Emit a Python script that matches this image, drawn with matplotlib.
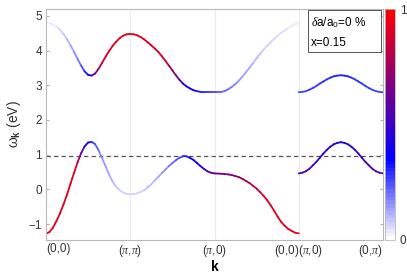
import numpy as np
import matplotlib
matplotlib.use("Agg")
import matplotlib.pyplot as plt
from matplotlib.collections import LineCollection
from matplotlib.colors import LinearSegmentedColormap, Normalize
from matplotlib.patches import Rectangle

plt.rcParams["font.family"] = ["Liberation Sans", "DejaVu Sans"]
plt.rcParams["mathtext.fontset"] = "custom"
plt.rcParams["mathtext.rm"] = "Liberation Sans"
plt.rcParams["mathtext.it"] = "Liberation Serif:italic"
plt.rcParams["mathtext.bf"] = "Liberation Sans:bold"

# high-symmetry path, equally spaced
KPOINT_LABELS = ["(0,0)", "($\\pi$,$\\pi$)", "($\\pi$,0)", "(0,0)($\\pi$,0)", "(0,$\\pi$)"]
EF = 0.95

# Gamma -> M -> X -> Gamma, 24 steps per leg (energies in eV, weights 0..1)
UPPER_E = [4.80, 4.79, 4.75, 4.69, 4.60, 4.48, 4.33, 4.15, 3.96, 3.76, 3.57, 3.40,
           3.30, 3.28, 3.34, 3.48, 3.65, 3.83, 3.99, 4.14, 4.26, 4.36, 4.43, 4.47, 4.48,
           4.47, 4.44, 4.39, 4.32, 4.24, 4.15, 4.06, 3.96, 3.84, 3.71, 3.57,
           3.43, 3.29, 3.16, 3.05, 2.97, 2.91, 2.86, 2.83, 2.81, 2.80, 2.80, 2.80, 2.80,
           2.80, 2.81, 2.84, 2.89, 2.96, 3.04, 3.14, 3.26, 3.38, 3.51, 3.65,
           3.78, 3.91, 4.03, 4.14, 4.25, 4.34, 4.43, 4.51, 4.58, 4.65, 4.71, 4.76, 4.80]
UPPER_W = [.03, .03, .04, .05, .06, .08, .10, .12, .15, .18, .22, .28,
           .35, .45, .60, .74, .85, .90, .92, .92, .92, .92, .92, .92, .92,
           .92, .92, .92, .92, .91, .90, .89, .88, .87, .85, .81, .75,
           .68, .60, .50, .42, .38, .35, .33, .32, .30, .28, .26, .25,
           .24, .22, .21, .20, .18, .17, .15, .14, .13, .12, .11, .10,
           .09, .08, .075, .07, .065, .06, .055, .05, .045, .04, .035, .03]
LOWER_E = [-1.28, -1.23, -1.10, -0.91, -0.69, -0.43, -0.15, 0.17, 0.48, 0.78, 1.04, 1.24,
           1.35, 1.37, 1.30, 1.12, 0.90, 0.66, 0.42, 0.22, 0.07, -0.03, -0.09, -0.13, -0.145,
           -0.14, -0.11, -0.07, -0.02, 0.06, 0.15, 0.26, 0.36, 0.47, 0.57, 0.67,
           0.76, 0.84, 0.91, 0.95, 0.95, 0.91, 0.85, 0.76, 0.67, 0.59, 0.52, 0.48, 0.46,
           0.455, 0.45, 0.44, 0.43, 0.41, 0.38, 0.35, 0.30, 0.24, 0.18, 0.10,
           0.02, -0.08, -0.19, -0.31, -0.46, -0.62, -0.79, -0.94, -1.05, -1.14, -1.20, -1.25, -1.27]
LOWER_W = [.92, .92, .92, .92, .92, .92, .92, .92, .90, .82, .65, .48,
           .36, .30, .24, .20, .17, .14, .12, .10, .09, .08, .07, .065, .06,
           .065, .07, .075, .08, .09, .10, .11, .13, .14, .16, .18, .20,
           .22, .25, .27, .30, .33, .36, .39, .42, .48, .55, .59, .62,
           .64, .66, .67, .68, .69, .70, .72, .74, .77, .80, .83, .85,
           .87, .88, .89, .90, .905, .91, .915, .92, .92, .92, .92, .92]

# X -> Y leg
XY_UPPER_E = [2.80, 2.81, 2.83, 2.87, 2.92, 2.98, 3.05, 3.11, 3.17, 3.22, 3.26, 3.28, 3.29,
              3.28, 3.26, 3.22, 3.17, 3.11, 3.05, 2.98, 2.92, 2.87, 2.83, 2.81, 2.80]
XY_UPPER_W = [.26, .26, .26, .27, .27, .28, .28, .29, .29, .30, .30, .30, .30,
              .30, .30, .30, .29, .29, .28, .28, .27, .27, .26, .26, .26]
XY_LOWER_E = [0.46, 0.48, 0.52, 0.59, 0.69, 0.79, 0.91, 1.03, 1.14, 1.23, 1.30, 1.34, 1.36,
              1.34, 1.30, 1.23, 1.14, 1.03, 0.91, 0.79, 0.69, 0.59, 0.52, 0.48, 0.46]
XY_LOWER_W = [.58, .58, .57, .56, .54, .52, .50, .48, .46, .44, .42, .41, .40,
              .41, .42, .44, .46, .48, .50, .52, .54, .56, .57, .58, .58]

cmap = LinearSegmentedColormap.from_list(
    "wbr", [(0.0, "white"), (0.35, "blue"), (1.0, "red")], N=64)
norm = Normalize(0, 1)


def colored_line(ax, k, e, w):
    k = np.asarray(k, float)
    e = np.asarray(e, float)
    w = np.asarray(w, float)
    pts = np.column_stack([k, e]).reshape(-1, 1, 2)
    segs = np.concatenate([pts[:-1], pts[1:]], axis=1)
    lc = LineCollection(segs, cmap=cmap, norm=norm, linewidths=1.3,
                        capstyle="round", joinstyle="round")
    lc.set_array(0.5 * (w[:-1] + w[1:]))
    ax.add_collection(lc)


def main():
    fig = plt.figure(figsize=(4.07, 2.74), dpi=100)
    ax = fig.add_axes([46 / 407, 34 / 274, 337 / 407, 231 / 274])
    cax = fig.add_axes([384.5 / 407, 34 / 274, 11 / 407, 231 / 274])

    k_main = np.linspace(0, 3, len(UPPER_E))
    k_xy = np.linspace(3, 4, len(XY_UPPER_E))

    for x in range(1, 4):
        ax.axvline(x, color="#ebebeb", lw=0.8, zorder=0)
    ax.axhline(EF, color="#555555", lw=0.9, ls=(0, (3.5, 2.5)), zorder=1)

    colored_line(ax, k_main, UPPER_E, UPPER_W)
    colored_line(ax, k_main, LOWER_E, LOWER_W)
    colored_line(ax, k_xy, XY_UPPER_E, XY_UPPER_W)
    colored_line(ax, k_xy, XY_LOWER_E, XY_LOWER_W)

    ax.set_xlim(0, 4)
    ax.set_ylim(-1.46, 5.2)
    ax.set_yticks([-1, 0, 1, 2, 3, 4, 5])
    ax.set_xticks(range(5))
    ax.set_xticklabels(KPOINT_LABELS)
    tl = ax.get_xticklabels()
    tl[0].set_ha("left")
    tl[-1].set_ha("right")
    ax.tick_params(direction="in", length=2.5, color="#b0b0b0", labelsize=8.5,
                   labelcolor="#333333", right=True, top=False, pad=3)
    ax.tick_params(axis="x", length=0, pad=2)
    for s in ax.spines.values():
        s.set_color("#b8b8b8")
        s.set_linewidth(0.8)

    ax.set_xlabel("k", fontsize=10, fontweight="bold")
    ax.xaxis.set_label_coords(0.5, -0.088)
    ax.set_ylabel("ω$_\\mathbf{k}$ (eV)", fontsize=10, color="#333333", labelpad=4)

    sm = plt.cm.ScalarMappable(cmap=cmap, norm=norm)
    cb = fig.colorbar(sm, cax=cax, ticks=[0, 1])
    cb.outline.set_edgecolor("#b8b8b8")
    cb.outline.set_linewidth(0.6)
    cax.tick_params(length=0, labelsize=8.5, labelcolor="#333333", pad=3)

    # parameter box in the top right corner
    fig.patches.append(Rectangle((308 / 407, 1 - 52 / 274), 73 / 407, 42 / 274,
                                 transform=fig.transFigure, facecolor="white",
                                 edgecolor="#555555", lw=0.7, zorder=5))
    fig.text(311 / 407, 1 - 23 / 274, "$\\delta$a/a$_0$=0 %", fontsize=8.5,
             va="center", ha="left", zorder=6)
    fig.text(311 / 407, 1 - 42.5 / 274, "x=0.15", fontsize=8.5,
             va="center", ha="left", zorder=6)

    fig.savefig("out.png", dpi=100)


if __name__ == "__main__":
    main()
